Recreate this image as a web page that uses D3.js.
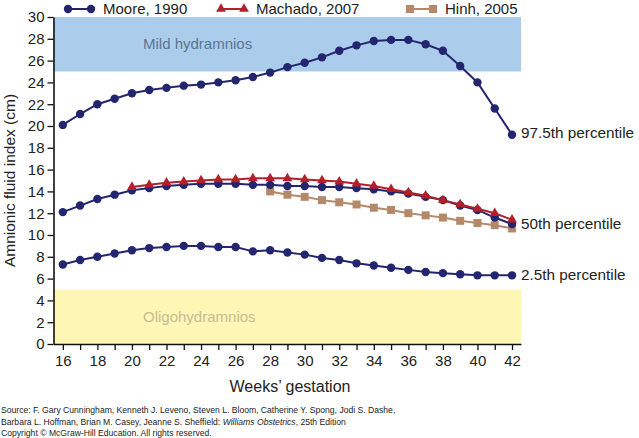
<!DOCTYPE html>
<html><head><meta charset="utf-8">
<script src="https://cdn.jsdelivr.net/npm/d3@7"></script>
<style>body{margin:0;background:#fff}svg{display:block;font-family:"Liberation Sans",Arial,sans-serif}</style>
</head><body><svg id="c" width="639" height="438"></svg>
<script>
const weeks = d3.range(16, 43);
const moore975 = [20.1,21.1,22.0,22.5,23.0,23.3,23.5,23.7,23.8,24.0,24.2,24.5,24.9,25.4,25.8,26.3,26.9,27.4,27.8,27.9,27.9,27.5,26.9,25.5,24.0,21.6,19.2];
const moore50 = [12.1,12.7,13.3,13.7,14.1,14.3,14.5,14.6,14.7,14.7,14.7,14.6,14.6,14.5,14.5,14.4,14.4,14.3,14.2,14.0,13.8,13.5,13.2,12.7,12.3,11.6,11.0];
const moore25 = [7.3,7.7,8.0,8.3,8.6,8.8,8.9,9.0,9.0,8.9,8.9,8.5,8.6,8.4,8.2,7.9,7.7,7.4,7.2,7.0,6.8,6.6,6.5,6.4,6.3,6.3,6.3];
const machadoWeeks = d3.range(20, 43);
const machado50 = [14.4,14.6,14.8,14.9,15.0,15.1,15.1,15.2,15.2,15.2,15.1,15.0,14.9,14.7,14.5,14.2,13.9,13.6,13.2,12.8,12.4,12.0,11.4];
const hinhWeeks = d3.range(28, 43);
const hinh50 = [14.0,13.7,13.5,13.2,13.0,12.8,12.5,12.3,12.0,11.8,11.6,11.3,11.1,10.9,10.6];
const yTicks = d3.range(0, 31, 2);
const xTicks = d3.range(16, 43, 2);
const bands = [{y0:25,y1:30,label:"Mild hydramnios"},{y0:0,y1:5,label:"Oligohydramnios"}];
const percentileLabels = ["97.5th percentile","50th percentile","2.5th percentile"];
const legendItems = ["Moore, 1990","Machado, 2007","Hinh, 2005"];
const sourceLines = [
 ["Source: F. Gary Cunningham, Kenneth J. Leveno, Steven L. Bloom, Catherine Y. Spong, Jodi S. Dashe,"],
 ["Barbara L. Hoffman, Brian M. Casey, Jeanne S. Sheffield: ","Williams Obstetrics",", 25th Edition"],
 ["Copyright \u00A9 McGraw-Hill Education.  All rights reserved."]
];

const svg = d3.select("#c");
const L = 53.5, R = 521, T = 17, B = 344;
const x = d3.scaleLinear().domain([15.46, 42.52]).range([L, R]);
const y = d3.scaleLinear().domain([0, 30]).range([B, T]);
const navy = "#23256f", red = "#b3202b", tan = "#b4896a";

// bands
const bandCol = ["#abcdeb", "#fdf6b4"], bandText = ["#5b7590", "#c6bd92"];
const bandTextY = [45, 318];
bands.forEach((b,i)=>{
  svg.append("rect").attr("x",L).attr("y",y(b.y1)).attr("width",R-L).attr("height",y(b.y0)-y(b.y1)).attr("fill",bandCol[i]);
  svg.append("text").attr("x",143).attr("y",bandTextY[i]).attr("dominant-baseline","middle")
    .attr("font-size",15).attr("fill",bandText[i]).text(b.label);
});

// axes
const yAxis = svg.append("g").attr("transform",`translate(${L},0)`).call(d3.axisLeft(y).tickValues(yTicks).tickSize(6).tickSizeOuter(0).tickPadding(3));
const xAxis = svg.append("g").attr("transform",`translate(0,${B})`).call(d3.axisBottom(x).tickValues(weeks).tickSize(6).tickSizeOuter(0).tickPadding(5).tickFormat(d=> xTicks.includes(d)? d : ""));
[yAxis,xAxis].forEach(a=>{a.selectAll("path").attr("stroke","#111").attr("stroke-width",1.6);a.selectAll("line").attr("stroke","#111").attr("stroke-width",1.3);a.selectAll("text").attr("font-size",15).attr("fill","#222").attr("font-family","Liberation Sans, Arial, sans-serif");});

svg.append("text").attr("x",290).attr("y",392).attr("text-anchor","middle").attr("font-size",16).attr("fill","#222").text("Weeks\u2019 gestation");
svg.append("text").attr("transform",`translate(11,${y(15)}) rotate(-90)`).attr("text-anchor","middle").attr("dominant-baseline","middle").attr("font-size",15.5).attr("fill","#222").text("Amnionic fluid index (cm)");

// lines
const line = d3.line().x(d=>x(d[0])).y(d=>y(d[1]));
function marker(g, cx, cy, col, shape){
  if(shape==="circle") g.append("circle").attr("cx",cx).attr("cy",cy).attr("r",4.2).attr("fill",col);
  else if(shape==="square") g.append("rect").attr("x",cx-4).attr("y",cy-4).attr("width",8).attr("height",8).attr("fill",col);
  else g.append("path").attr("transform",`translate(${cx},${cy})`).attr("d",d3.symbol(d3.symbolTriangle,42)()).attr("fill",col);
}
function series(ws, vs, col, shape){
  const pts = ws.map((w,i)=>[w,vs[i]]);
  svg.append("path").attr("d",line(pts)).attr("fill","none").attr("stroke",col).attr("stroke-width",2);
  const g = svg.append("g");
  pts.forEach(p=>marker(g, x(p[0]), y(p[1]), col, shape));
}
series(hinhWeeks, hinh50, tan, "square");
series(weeks, moore975, navy, "circle");
series(weeks, moore50, navy, "circle");
series(weeks, moore25, navy, "circle");
series(machadoWeeks, machado50, red, "triangle");

// percentile labels
const lblY = [134, 225, 276];
percentileLabels.forEach((t,i)=>{
  svg.append("text").attr("x",521).attr("y",lblY[i]).attr("dominant-baseline","middle").attr("font-size",15.3).attr("fill","#222").text(t);
});

// legend
const legX = [68, 221, 410], legCol=[navy,red,tan], legShape=["circle","triangle","square"];
legendItems.forEach((t,i)=>{
  const lx = legX[i], ly = 9;
  svg.append("line").attr("x1",lx).attr("x2",lx+23).attr("y1",ly).attr("y2",ly).attr("stroke",legCol[i]).attr("stroke-width",2);
  [lx,lx+23].forEach(cx=>marker(svg, cx, ly, legCol[i], legShape[i]));
  svg.append("text").attr("x",lx+35).attr("y",ly+1).attr("dominant-baseline","middle").attr("font-size",15).attr("fill","#222").text(t);
});

// source
const srcY = [413, 425, 436];
sourceLines.forEach((parts,i)=>{
  const t = svg.append("text").attr("x",1).attr("y",srcY[i]).attr("font-size",8.6).attr("fill","#222");
  parts.forEach((p,j)=>t.append("tspan").attr("font-style", (i===1&&j===1)?"italic":"normal").text(p));
});
</script></body></html>
